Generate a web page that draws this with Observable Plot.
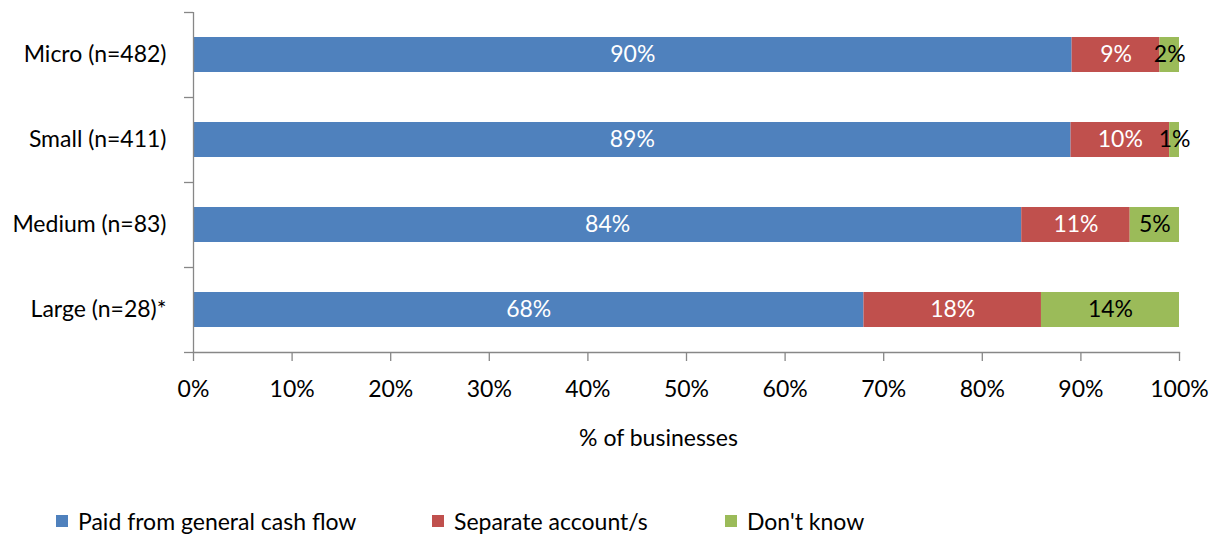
<!DOCTYPE html>
<html>
<head>
<meta charset="utf-8">
<script src="https://cdn.jsdelivr.net/npm/d3@7"></script>
<script src="https://cdn.jsdelivr.net/npm/@observablehq/plot@0.6"></script>
<style>
  body { margin: 0; background: #fff; }
  #wrap { position: relative; width: 1211px; height: 534px; font-family: Lato, sans-serif; }
  #legend { position: absolute; left: 0; top: 508px; width: 1211px; height: 26px; font-size: 23px; color: #000; }
  .item { position: absolute; top: 0; display: flex; align-items: center; height: 26px; }
  .sw { width: 12px; height: 12px; margin-right: 10px; }
</style>
</head>
<body>
<div id="wrap">
  <div id="chart"></div>
  <div id="legend"></div>
</div>
<script>
const categories = ["Micro (n=482)", "Small (n=411)", "Medium (n=83)", "Large (n=28)*"];
const seriesNames = ["Paid from general cash flow", "Separate account/s", "Don't know"];
const paidGeneral = [90, 89, 84, 68];
const separateAccount = [9, 10, 11, 18];
const dontKnow = [2, 1, 5, 14];
const seriesColors = ["#4F81BD", "#C0504D", "#9BBB59"];
const xTicks = [0, 0.1, 0.2, 0.3, 0.4, 0.5, 0.6, 0.7, 0.8, 0.9, 1];
const xTickLabels = ["0%", "10%", "20%", "30%", "40%", "50%", "60%", "70%", "80%", "90%", "100%"];
const xTitle = "% of businesses";
const legendLeft = [56, 432, 725];

const seriesValues = [paidGeneral, separateAccount, dontKnow];
const rows = categories.flatMap((c, i) =>
  seriesNames.map((s, j) => ({category: c, series: s, value: seriesValues[j][i]}))
);

const gray = "#878787";
const fontSize = 23;
const halfStep = 42.5;

const chart = Plot.plot({
  width: 1211,
  height: 460,
  marginTop: 12,
  marginRight: 32,
  marginBottom: 108,
  marginLeft: 193,
  style: {fontFamily: "Lato, sans-serif", fontSize: fontSize + "px", color: "#000", background: "#fff"},
  x: {domain: [0, 1]},
  y: {domain: categories, paddingInner: 0.59, paddingOuter: 0.295},
  color: {domain: seriesNames, range: seriesColors},
  marks: [
    Plot.barX(rows, Plot.stackX({x: "value", y: "category", fill: "series", offset: "normalize"})),
    Plot.text(rows, Plot.stackX({
      x: "value", y: "category", z: "series", offset: "normalize",
      text: d => d.series === "Don't know" ? "" : d.value + "%",
      fill: "white", fontSize: fontSize
    })),
    Plot.text(rows, Plot.stackX({
      x: "value", y: "category", z: "series", offset: "normalize",
      text: d => d.series === "Don't know" ? d.value + "%" : "",
      fill: "black", fontSize: fontSize
    })),
    Plot.ruleX([0], {stroke: gray, strokeWidth: 1.3}),
    Plot.frame({anchor: "bottom", stroke: gray, strokeWidth: 1.3}),
    Plot.axisY({tickSize: 9, dy: halfStep, tickFormat: () => "", stroke: gray, strokeWidth: 1.3, label: null}),
    Plot.axisY({ticks: [categories[0]], tickSize: 9, dy: -halfStep, tickFormat: () => "", stroke: gray, strokeWidth: 1.3, label: null}),
    Plot.axisY({tickSize: 0, tickPadding: 27, label: null, fontSize: fontSize}),
    Plot.axisX({ticks: xTicks, tickSize: 9, tickFormat: () => "", stroke: gray, strokeWidth: 1.3, label: null}),
    Plot.axisX({ticks: xTicks, tickSize: 0, tickPadding: 28, tickFormat: (d, i) => xTickLabels[i], label: null, fontSize: fontSize}),
    Plot.text([xTitle], {text: d => d, frameAnchor: "bottom", dx: -28, dy: 93, fontSize: fontSize, fill: "black"})
  ]
});
document.getElementById("chart").appendChild(chart);

const legend = document.getElementById("legend");
seriesNames.forEach((s, i) => {
  const item = document.createElement("div");
  item.className = "item";
  item.style.left = legendLeft[i] + "px";
  const sw = document.createElement("div");
  sw.className = "sw";
  sw.style.background = seriesColors[i];
  const tx = document.createElement("span");
  tx.textContent = s;
  item.appendChild(sw);
  item.appendChild(tx);
  legend.appendChild(item);
});
</script>
</body>
</html>
